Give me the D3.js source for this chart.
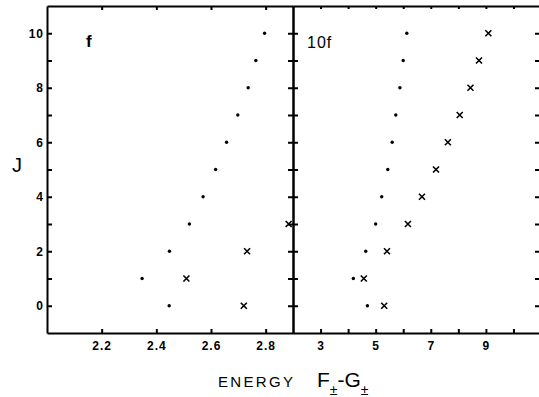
<!DOCTYPE html>
<html>
<head>
<meta charset="utf-8">
<script src="https://cdn.jsdelivr.net/npm/d3@7"></script>
<style>
  body { margin: 0; background: #fff; }
  svg { display: block; font-family: "Liberation Sans", Arial, sans-serif; }
  .axis path, .axis line { stroke: #000; stroke-width: 2; }
  .axis text { font-size: 12px; font-weight: bold; letter-spacing: 1px; fill: #000; }
</style>
</head>
<body>
<svg width="539" height="397"></svg>
<script>
// J levels shared by both panels
const jValues = [0, 1, 2, 3, 4, 5, 6, 7, 8, 9, 10];

// panel "f": dots (F) and crosses (G), energy
const fDots = [2.447, 2.348, 2.448, 2.521, 2.571, 2.617, 2.657, 2.698, 2.736, 2.764, 2.796];
const fCrossJ = [0, 1, 2, 3];
const fCrosses = [2.72, 2.51, 2.732, 2.884];

// panel "10f"
const tenDots = [4.70, 4.19, 4.64, 5.00, 5.22, 5.44, 5.60, 5.73, 5.88, 6.00, 6.13];
const tenCrosses = [5.31, 4.57, 5.41, 6.17, 6.68, 7.19, 7.62, 8.05, 8.44, 8.75, 9.09];

const leftTicks = [2.2, 2.4, 2.6, 2.8];
const rightTicks = [3, 4, 5, 6, 7, 8, 9, 10];
const rightLabels = [3, 5, 7, 9];
const jLabels = [0, 2, 4, 6, 8, 10];

const svg = d3.select("svg");
const yTop = 6, yBottom = 333, xLeft = 47, xMid = 293, xRight = 541;

const y = d3.scaleLinear().domain([-1, 11]).range([yBottom, yTop]);
const xL = d3.scaleLinear().domain([2.0, 2.9]).range([xLeft, xMid]);
const xR = d3.scaleLinear().domain([2, 11]).range([xMid, xRight]);

// bottom axes
svg.append("g").attr("class", "axis")
  .attr("transform", `translate(0,${yBottom})`)
  .call(d3.axisBottom(xL).tickValues(leftTicks).tickSizeInner(-4).tickSizeOuter(0)
    .tickPadding(8).tickFormat(d3.format(".1f")));
svg.append("g").attr("class", "axis")
  .attr("transform", `translate(0,${yBottom})`)
  .call(d3.axisBottom(xR).tickValues(rightTicks).tickSizeInner(-4).tickSizeOuter(0)
    .tickPadding(8).tickFormat(d => rightLabels.includes(d) ? d : ""));

// top axes
svg.append("g").attr("class", "axis")
  .attr("transform", `translate(0,${yTop})`)
  .call(d3.axisTop(xL).tickValues(leftTicks).tickSizeInner(-4).tickSizeOuter(0).tickFormat(""));
svg.append("g").attr("class", "axis")
  .attr("transform", `translate(0,${yTop})`)
  .call(d3.axisTop(xR).tickValues(rightTicks).tickSizeInner(-3).tickSizeOuter(0).tickFormat(""));

// left axis
svg.append("g").attr("class", "axis")
  .attr("transform", `translate(${xLeft},0)`)
  .call(d3.axisLeft(y).tickValues(jValues).tickSizeInner(-5).tickSizeOuter(0)
    .tickPadding(3).tickFormat(d => jLabels.includes(d) ? d : ""));

// divider, ticks on both sides
svg.append("g").attr("class", "axis")
  .attr("transform", `translate(${xMid},0)`)
  .call(d3.axisLeft(y).tickValues(jValues).tickSizeInner(5).tickSizeOuter(0).tickFormat(""));
svg.append("g").attr("class", "axis")
  .attr("transform", `translate(${xMid},0)`)
  .call(d3.axisRight(y).tickValues(jValues).tickSizeInner(5).tickSizeOuter(0).tickFormat(""));

// right axis (mostly off the page)
svg.append("g").attr("class", "axis")
  .attr("transform", `translate(${xRight},0)`)
  .call(d3.axisRight(y).tickValues(jValues).tickSizeInner(-6).tickSizeOuter(0).tickFormat(""));

const cross = "M-3,-3L3,3M-3,3L3,-3";

function drawDots(xs, xScale) {
  svg.append("g").selectAll("circle")
    .data(xs)
    .enter()
    .append("circle")
    .attr("cx", d => xScale(d))
    .attr("cy", (d, i) => y(jValues[i]))
    .attr("r", 1.7)
    .attr("fill", "#000");
}

function drawCrosses(xs, js, xScale) {
  svg.append("g").selectAll("path")
    .data(xs)
    .enter()
    .append("path")
    .attr("d", cross)
    .attr("transform", (d, i) => `translate(${xScale(d)},${y(js[i])})`)
    .attr("stroke", "#000")
    .attr("stroke-width", 1.6)
    .attr("fill", "none");
}

drawDots(fDots, xL);
drawCrosses(fCrosses, fCrossJ, xL);
drawDots(tenDots, xR);
drawCrosses(tenCrosses, jValues, xR);

// panel labels
svg.append("text").attr("x", 86).attr("y", 47)
  .attr("font-size", 17).attr("font-weight", "bold").text("f");
svg.append("text").attr("x", 307).attr("y", 48)
  .attr("font-size", 16).attr("letter-spacing", 1).text("10f");

// y label
svg.append("text").attr("x", 12).attr("y", 172)
  .attr("font-size", 20).text("J");

// x label
svg.append("text").attr("x", 218).attr("y", 387)
  .attr("font-size", 15)
  .attr("textLength", 75).attr("lengthAdjust", "spacing").text("ENERGY");
const xt = svg.append("text").attr("x", 317).attr("y", 387)
  .attr("font-size", 21);
xt.append("tspan").text("F");
xt.append("tspan").attr("font-size", 14).attr("dy", 8).text("±");
xt.append("tspan").attr("dy", -8).text("-G");
xt.append("tspan").attr("font-size", 14).attr("dy", 8).text("±");
</script>
</body>
</html>
